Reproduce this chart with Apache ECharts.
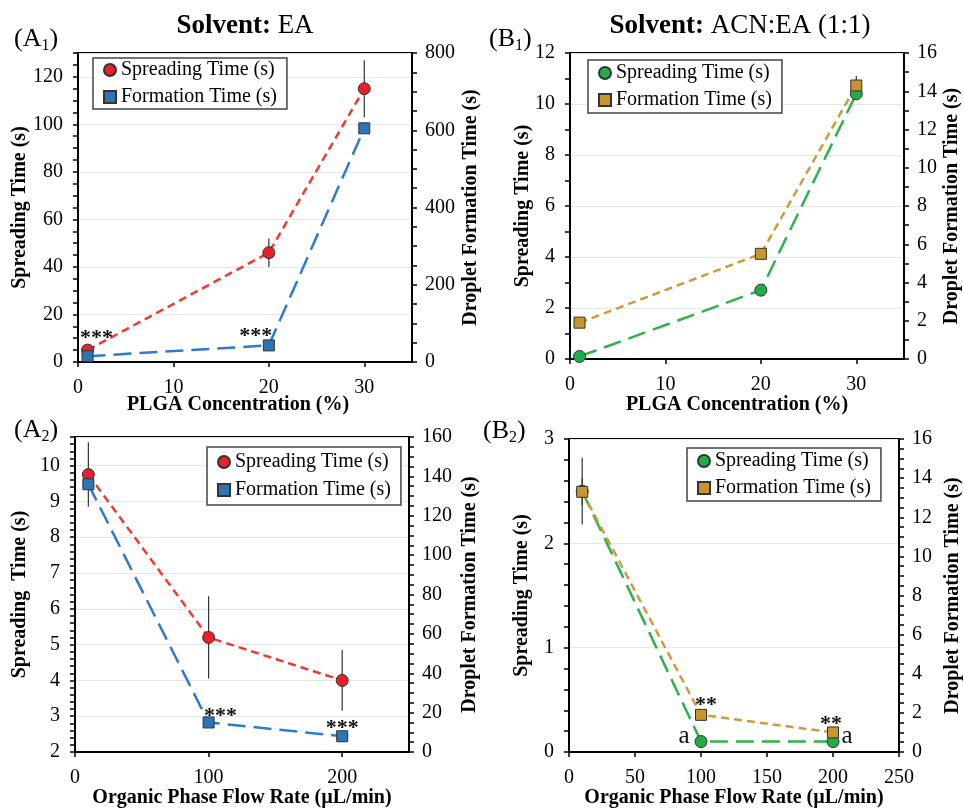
<!DOCTYPE html>
<html><head><meta charset="utf-8">
<script src="https://cdn.jsdelivr.net/npm/echarts@6/dist/echarts.min.js"></script>
<style>html,body{margin:0;padding:0;background:#fff}#c{width:964px;height:809px}</style>
</head><body><div id="c"></div>
<script>
const FONT = '"Liberation Serif", "Times New Roman", serif';

// ---------- Panel A1 : Solvent EA, vs PLGA concentration ----------
const a1X = [1, 20, 30];
const a1Spread = [5, 46, 115];
const a1SpreadErr = [0, 6, 12];
const a1Form = [15, 43, 605];
const a1FormErr = [0, 0, 0];
const a1SpreadNotes = ['***', '', ''];
const a1FormNotes = ['', '***', ''];
const a1XScale = [0, 35, 10];
const a1LeftScale = [0, 130, 20];
const a1RightScale = [0, 800, 200];

// ---------- Panel B1 : Solvent ACN:EA (1:1), vs PLGA concentration ----------
const b1X = [1, 20, 30];
const b1Spread = [0.1, 2.7, 10.4];
const b1SpreadErr = [0, 0, 0];
const b1Form = [1.9, 5.5, 14.3];
const b1FormErr = [0, 0, 0.5];
const b1SpreadNotes = ['', '', ''];
const b1FormNotes = ['', '', ''];
const b1XScale = [0, 35, 10];
const b1LeftScale = [0, 12, 2];
const b1RightScale = [0, 16, 2];

// ---------- Panel A2 : Solvent EA, vs organic phase flow rate ----------
const a2X = [10, 100, 200];
const a2Spread = [9.75, 5.2, 4.0];
const a2SpreadErr = [0.9, 1.15, 0.85];
const a2Form = [136, 15, 8];
const a2FormErr = [0, 0, 0];
const a2SpreadNotes = ['', '', ''];
const a2FormNotes = ['', '***', '***'];
const a2XScale = [0, 250, 100];
const a2LeftScale = [2, 10.8, 1];
const a2RightScale = [0, 160, 20];

// ---------- Panel B2 : Solvent ACN:EA (1:1), vs organic phase flow rate ----------
const b2X = [10, 100, 200];
const b2Spread = [2.5, 0.1, 0.1];
const b2SpreadErr = [0.32, 0, 0];
const b2Form = [13.3, 1.9, 1.0];
const b2FormErr = [0.7, 0, 0];
const b2SpreadNotes = ['', 'a', 'a'];
const b2FormNotes = ['', '**', '**'];
const b2XScale = [0, 250, 50];
const b2LeftScale = [0, 3, 1];
const b2RightScale = [0, 16, 2];

const titleLeft = 'Solvent:';
const titleEA = ' EA';
const titleMix = ' ACN:EA (1:1)';
const xNameConc = 'PLGA Concentration (%)';
const xNameFlow = 'Organic Phase Flow Rate (µL/min)';
const yNameLeft = 'Spreading Time (s)';
const yNameLeftA2 = 'Spreading  Time (s)';
const yNameRight = 'Droplet Formation Time (s)';
const legSpread = 'Spreading Time (s)';
const legForm = 'Formation Time (s)';

// ---------- styles / layout ----------
const RED = '#e8202a', RED_L = '#f03a30';
const BLUE = '#2e75b6', BLUE_L = '#2d7bcf';
const GREEN = '#1fae4b', GREEN_L = '#2bb44a';
const GOLD = '#c8952e', GOLD_L = '#d09a3c';

const panels = [
  { id: 'A1', grid: {left: 78, top: 53, width: 334, height: 309},
    x: a1X, s: a1Spread, se: a1SpreadErr, f: a1Form, fe: a1FormErr, sn: a1SpreadNotes, fn: a1FormNotes,
    xs: a1XScale, ls: a1LeftScale, rs: a1RightScale, xName: xNameConc, yName: yNameLeft,
    c1: RED, l1: RED_L, c2: BLUE, l2: BLUE_L, dash1: [8, 5], dash2: [18, 8],
    lMinor: 4, rMinor: 4, showXMax: false, showLMax: false,
    lGap: 48, rGap: 49, xGap: 33, xPad: [0, 14, 0, 0],
    legend: {left: 93, top: 58, padding: [2, 10, 2, 10], itemGap: 7},
    snOff: [[9, -12], null, null], fnOff: [null, [-13, -9], null] },
  { id: 'B1', grid: {left: 570, top: 53, width: 334, height: 306},
    x: b1X, s: b1Spread, se: b1SpreadErr, f: b1Form, fe: b1FormErr, sn: b1SpreadNotes, fn: b1FormNotes,
    xs: b1XScale, ls: b1LeftScale, rs: b1RightScale, xName: xNameConc, yName: yNameLeft,
    c1: GREEN, l1: GREEN_L, c2: GOLD, l2: GOLD_L, dash1: [18, 8], dash2: [8, 5],
    lMinor: 2, rMinor: 2, showXMax: false, showLMax: true,
    lGap: 37, rGap: 38, xGap: 36, xPad: [0, 0, 0, 0],
    legend: {left: 588, top: 60, padding: [3, 10, 3, 10], itemGap: 7},
    snOff: [null, null, null], fnOff: [null, null, null] },
  { id: 'A2', grid: {left: 75, top: 437, width: 334, height: 315},
    x: a2X, s: a2Spread, se: a2SpreadErr, f: a2Form, fe: a2FormErr, sn: a2SpreadNotes, fn: a2FormNotes,
    xs: a2XScale, ls: a2LeftScale, rs: a2RightScale, xName: xNameFlow, yName: yNameLeftA2,
    c1: RED, l1: RED_L, c2: BLUE, l2: BLUE_L, dash1: [8, 5], dash2: [18, 8],
    lMinor: 5, rMinor: 4, showXMax: false, showLMax: false,
    lGap: 45, rGap: 51, xGap: 36, xPad: [0, 0, 0, 0],
    legend: {left: 207, top: 447, padding: [5, 10, 5, 10], itemGap: 8},
    snOff: [null, null, null], fnOff: [null, [12, -6], [0, -8]] },
  { id: 'B2', grid: {left: 569, top: 439, width: 330, height: 314},
    x: b2X, s: b2Spread, se: b2SpreadErr, f: b2Form, fe: b2FormErr, sn: b2SpreadNotes, fn: b2FormNotes,
    xs: b2XScale, ls: b2LeftScale, rs: b2RightScale, xName: xNameFlow, yName: yNameLeft,
    c1: GREEN, l1: GREEN_L, c2: GOLD, l2: GOLD_L, dash1: [18, 8], dash2: [8, 5],
    lMinor: 5, rMinor: 4, showXMax: true, showLMax: true,
    lGap: 37, rGap: 44, xGap: 36, xPad: [0, 0, 0, 0],
    legend: {left: 687, top: 448, padding: [3, 10, 3, 10], itemGap: 7},
    snOff: [null, [-17, -5], [14, -5]], fnOff: [null, [5, -10], [-2, -8]] }
];

const grids = [], xAxes = [], yAxes = [], series = [], legends = [];

function tickStyle() { return {show: true, inside: false, length: 5, lineStyle: {color: '#000', width: 1.5}}; }
function labelStyle(extra) { return Object.assign({fontFamily: FONT, fontSize: 20, color: '#000'}, extra); }
function nameStyle(extra) { return Object.assign({fontFamily: FONT, fontSize: 20, fontWeight: 'bold', color: '#000'}, extra); }

function pointData(xs, ys, notes, offs) {
  return xs.map((x, i) => {
    const item = {value: [x, ys[i]]};
    if (notes[i]) {
      const isA = notes[i] === 'a';
      item.label = {show: true, formatter: notes[i], position: 'inside', offset: offs[i] || [0, -12],
        fontFamily: FONT, fontSize: isA ? 25 : 22, fontWeight: isA ? 'normal' : 'bold', color: '#111'};
    }
    return item;
  });
}

function errSeries(gi, yIdx, xs, ys, es) {
  const d = [];
  xs.forEach((x, i) => { if (es[i] > 0) d.push([x, ys[i] - es[i], ys[i] + es[i]]); });
  if (!d.length) return null;
  return {
    type: 'custom', xAxisIndex: gi, yAxisIndex: yIdx, data: d, silent: true, z: 1,
    renderItem: (params, api) => {
      const a = api.coord([api.value(0), api.value(1)]);
      const b = api.coord([api.value(0), api.value(2)]);
      return {type: 'line', shape: {x1: a[0], y1: a[1], x2: b[0], y2: b[1]},
        style: {stroke: '#333', lineWidth: 1.2}};
    }
  };
}

panels.forEach((p, gi) => {
  grids.push(Object.assign({show: true, borderColor: '#000', borderWidth: 2, backgroundColor: 'transparent', containLabel: false}, p.grid));
  xAxes.push({
    type: 'value', gridIndex: gi, min: p.xs[0], max: p.xs[1], interval: p.xs[2],
    axisLine: {show: true, onZero: false, lineStyle: {color: '#000', width: 2}},
    axisTick: tickStyle(), splitLine: {show: false},
    axisLabel: labelStyle({margin: 16, showMaxLabel: p.showXMax}),
    name: p.xName, nameLocation: 'middle', nameGap: p.xGap, nameMoveOverlap: false,
    nameTextStyle: nameStyle({padding: p.xPad})
  });
  yAxes.push({
    type: 'value', gridIndex: gi, position: 'left', min: p.ls[0], max: p.ls[1], interval: p.ls[2],
    axisLine: {show: true, onZero: false, lineStyle: {color: '#000', width: 2}},
    axisTick: tickStyle(), minorTick: {show: true, splitNumber: p.lMinor, length: 5, lineStyle: {color: '#000', width: 1.5}},
    splitLine: {show: true, lineStyle: {color: '#e6e6e6', width: 1}},
    axisLabel: labelStyle({margin: 15, showMaxLabel: p.showLMax}),
    name: p.yName, nameLocation: 'middle', nameGap: p.lGap, nameMoveOverlap: false, nameTextStyle: nameStyle()
  });
  yAxes.push({
    type: 'value', gridIndex: gi, position: 'right', min: p.rs[0], max: p.rs[1], interval: p.rs[2], alignTicks: false,
    axisLine: {show: true, onZero: false, lineStyle: {color: '#000', width: 2}},
    axisTick: tickStyle(), minorTick: {show: true, splitNumber: p.rMinor, length: 5, lineStyle: {color: '#000', width: 1.5}},
    splitLine: {show: false},
    axisLabel: labelStyle({margin: 13}),
    name: yNameRight, nameLocation: 'middle', nameGap: p.rGap, nameMoveOverlap: false, nameTextStyle: nameStyle()
  });
  const ly = gi * 2, ry = gi * 2 + 1;
  const e1 = errSeries(gi, ly, p.x, p.s, p.se);
  const e2 = errSeries(gi, ry, p.x, p.f, p.fe);
  if (e1) series.push(e1);
  if (e2) series.push(e2);
  const sName = p.id + ' ' + legSpread, fName = p.id + ' ' + legForm;
  series.push({
    type: 'line', name: sName, xAxisIndex: gi, yAxisIndex: ly,
    data: pointData(p.x, p.s, p.sn, p.snOff), symbol: 'circle', symbolSize: 12, showSymbol: true,
    itemStyle: {color: p.c1, borderColor: '#333', borderWidth: 1},
    lineStyle: {color: p.l1, width: 2.5, type: p.dash1}, z: 3, animation: false
  });
  series.push({
    type: 'line', name: fName, xAxisIndex: gi, yAxisIndex: ry,
    data: pointData(p.x, p.f, p.fn, p.fnOff), symbol: 'rect', symbolSize: 11, showSymbol: true,
    itemStyle: {color: p.c2, borderColor: '#333', borderWidth: 1},
    lineStyle: {color: p.l2, width: 2.5, type: p.dash2}, z: 3, animation: false
  });
  legends.push(Object.assign({
    show: true, orient: 'vertical', selectedMode: false,
    borderColor: '#444', borderWidth: 1.5, backgroundColor: '#fff',
    itemWidth: 12, itemHeight: 12,
    textStyle: {fontFamily: FONT, fontSize: 20, color: '#000'},
    formatter: (n) => n.replace(/^\S+ /, ''),
    data: [{name: sName, icon: 'circle'}, {name: fName, icon: 'rect'}]
  }, p.legend));
});

function panelLabel(letter, sub, x, y) {
  return {type: 'text', x: x, y: y, silent: true, style: {
    text: '{m|(' + letter + '}{s|' + sub + '}{m|)}', align: 'left', verticalAlign: 'middle',
    rich: {m: {fontFamily: FONT, fontSize: 26, lineHeight: 30, fill: '#000'},
           s: {fontFamily: FONT, fontSize: 16, lineHeight: 16, verticalAlign: 'bottom', fill: '#000'}}
  }};
}
function title(rest, x, y) {
  return {type: 'text', x: x, y: y, silent: true, style: {
    text: '{b|' + titleLeft + '}{n|' + rest + '}', align: 'center', verticalAlign: 'middle',
    rich: {b: {fontFamily: FONT, fontSize: 27, fontWeight: 'bold', fill: '#000'},
           n: {fontFamily: FONT, fontSize: 27, fill: '#000'}}
  }};
}

const chart = echarts.init(document.getElementById('c'), null, {renderer: 'canvas'});
chart.setOption({
  backgroundColor: '#fff',
  animation: false,
  grid: grids, xAxis: xAxes, yAxis: yAxes, series: series, legend: legends,
  graphic: [
    title(titleEA, 245, 26), title(titleMix, 740, 26),
    panelLabel('A', '1', 14, 39), panelLabel('B', '1', 489, 39),
    panelLabel('A', '2', 14, 430), panelLabel('B', '2', 483, 431)
  ]
});
</script></body></html>
